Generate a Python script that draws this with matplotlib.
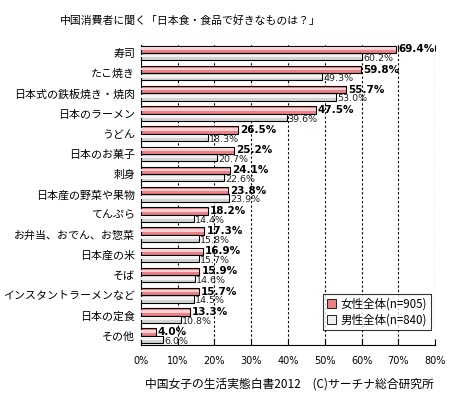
import matplotlib
matplotlib.use("Agg")
import matplotlib.pyplot as plt
import numpy as np
from matplotlib.patches import Patch

plt.rcParams['font.family'] = ['Noto Sans CJK JP', 'DejaVu Sans']

categories = ["寿司", "たこ焼き", "日本式の鉄板焼き・焼肉", "日本のラーメン", "うどん",
              "日本のお菓子", "刺身", "日本産の野菜や果物", "てんぷら", "お弁当、おでん、お惣菜",
              "日本産の米", "そば", "インスタントラーメンなど", "日本の定食", "その他"]
female = [69.4, 59.8, 55.7, 47.5, 26.5, 25.2, 24.1, 23.8, 18.2, 17.3, 16.9, 15.9, 15.7, 13.3, 4.0]
male = [60.2, 49.3, 53.0, 39.6, 18.3, 20.7, 22.6, 23.9, 14.4, 15.8, 15.7, 14.6, 14.5, 10.8, 6.0]
xticks = [0, 10, 20, 30, 40, 50, 60, 70, 80]
xticklabels = ["0%", "10%", "20%", "30%", "40%", "50%", "60%", "70%", "80%"]
title = "中国消費者に聞く「日本食・食品で好きなものは？」"
footer = "中国女子の生活実態白書2012　(C)サーチナ総合研究所"
leg_f = "女性全体(n=905)"
leg_m = "男性全体(n=840)"

fig = plt.figure(figsize=(4.5, 3.97), dpi=100)
ax = fig.add_axes([0.313, 0.131, 0.654, 0.756])

n = len(categories)
y = np.arange(n)
h = 0.36
yf = y - 0.18
ym = y + 0.18

ax.barh(yf, female, height=h, color='#ee8088', edgecolor='black', linewidth=0.8, zorder=3)
ax.barh(yf - 0.03, female, height=h * 0.35, color='#fbd2d4', edgecolor='none', linewidth=0, zorder=4)
ax.barh(ym, male, height=h, color='#d4d4d4', edgecolor='black', linewidth=0.8, zorder=3)
ax.barh(ym - 0.03, male, height=h * 0.4, color='#f4f4f4', edgecolor='none', linewidth=0, zorder=4)

for yi, v in zip(yf, female):
    ax.text(v + 0.6, yi, f"{v:.1f}%", va='center', ha='left', fontsize=7.5,
            fontweight='bold', family=['DejaVu Sans'], zorder=5)
for yi, v in zip(ym, male):
    ax.text(v + 0.3, yi + 0.1, f"{v:.1f}%", va='center', ha='left', fontsize=6.8,
            family=['DejaVu Sans'], zorder=5, color='#222222')

ax.set_xlim(0, 80)
ax.set_ylim(n - 0.54, -0.4)
ax.set_xticks(xticks)
ax.set_xticklabels(xticklabels, fontsize=7, family=['DejaVu Sans'])
ax.set_yticks(y)
ax.set_yticklabels(categories, fontsize=7.9)
ax.tick_params(axis='y', length=0, pad=4)
ax.tick_params(axis='x', direction='in', length=4, top=True, pad=8, width=0.8)

for g in xticks[1:]:
    ax.axvline(g, color='black', linestyle=(0, (2, 2)), linewidth=0.8, zorder=1)

ax.spines['top'].set_visible(False)
ax.spines['right'].set_visible(False)
ax.spines['left'].set_linewidth(0.8)
ax.spines['bottom'].set_linewidth(0.8)

handles = [Patch(facecolor='#ee8088', edgecolor='black', linewidth=0.6),
           Patch(facecolor='#eeeeee', edgecolor='black', linewidth=0.6)]
leg = ax.legend(handles, [leg_f, leg_m], loc='lower right', bbox_to_anchor=(1.005, 0.03),
                fontsize=8.3, frameon=True, fancybox=False, edgecolor='black',
                handlelength=0.8, handleheight=0.8, handletextpad=0.4, borderpad=0.35,
                labelspacing=0.2)
leg.get_frame().set_linewidth(0.8)
leg.set_zorder(6)

fig.text(60 / 450, 1 - 21 / 397, title, fontsize=7.8, va='center', ha='left')
fig.text(145 / 450, 1 - 384 / 397, footer, fontsize=8.5, va='center', ha='left')

fig.savefig("out.png", dpi=100)
